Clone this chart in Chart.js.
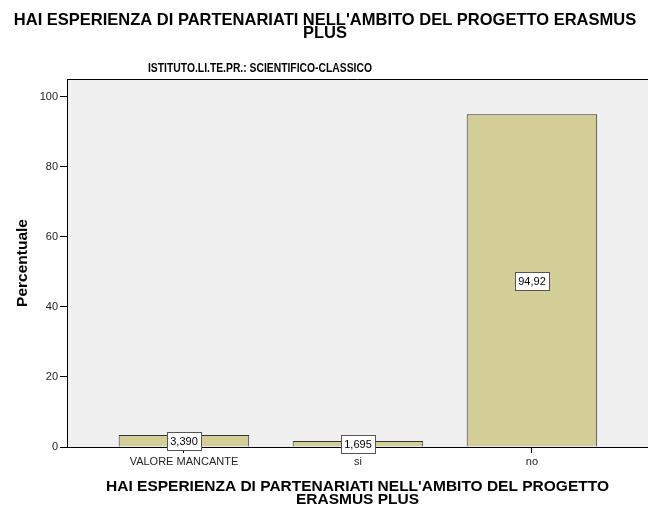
<!DOCTYPE html>
<html>
<head>
<meta charset="utf-8">
<script src="https://cdn.jsdelivr.net/npm/chart.js@4/dist/chart.umd.min.js"></script>
<style>
  html, body { margin: 0; padding: 0; background: #ffffff; }
  #wrap { width: 648px; height: 506px; }
</style>
</head>
<body>
<div id="wrap"><canvas id="barChart" width="648" height="506"></canvas></div>
<script>
// Chart data
const categories = ['VALORE MANCANTE', 'si', 'no'];
const percentages = [3.390, 1.695, 94.92];
const valueLabels = ['3,390', '1,695', '94,92'];
const yTicks = [0, 20, 40, 60, 80, 100];

const mainTitle = ["HAI ESPERIENZA DI PARTENARIATI NELL'AMBITO DEL PROGETTO ERASMUS", 'PLUS'];
const panelTitle = 'ISTITUTO.LI.TE.PR.: SCIENTIFICO-CLASSICO';
const xTitle = ["HAI ESPERIENZA DI PARTENARIATI NELL'AMBITO DEL PROGETTO", 'ERASMUS PLUS'];
const yTitle = 'Percentuale';

const FONT = "'Liberation Sans', Arial, sans-serif";

// Gray plot background with the top frame line
const plotBackground = {
    id: 'plotBackground',
    beforeDraw(chart) {
        const { ctx, chartArea } = chart;
        ctx.save();
        ctx.fillStyle = '#f0f0f0';
        ctx.fillRect(chartArea.left, chartArea.top, chartArea.right - chartArea.left, chartArea.bottom - chartArea.top);
        ctx.strokeStyle = '#000000';
        ctx.lineWidth = 1;
        ctx.beginPath();
        ctx.moveTo(chartArea.left, chartArea.top + 0.5);
        ctx.lineTo(chartArea.right, chartArea.top + 0.5);
        ctx.stroke();
        ctx.restore();
    }
};

// Titles above the plot
const titles = {
    id: 'titles',
    afterDraw(chart) {
        const ctx = chart.ctx;
        ctx.save();
        ctx.fillStyle = '#000000';
        ctx.textAlign = 'center';
        ctx.textBaseline = 'middle';
        ctx.font = 'bold 16.5px ' + FONT;
        ctx.fillText(mainTitle[0], 325, 20, 626);
        ctx.fillText(mainTitle[1], 325, 33);
        ctx.font = 'bold 13px ' + FONT;
        ctx.fillText(panelTitle, 260, 68, 224);
        ctx.restore();
    }
};

// Boxed value labels in the middle of each bar
const valueBoxes = {
    id: 'valueBoxes',
    afterDatasetsDraw(chart) {
        const { ctx } = chart;
        const meta = chart.getDatasetMeta(0);
        const yScale = chart.scales.y;
        ctx.save();
        ctx.font = '11px ' + FONT;
        ctx.textAlign = 'center';
        ctx.textBaseline = 'middle';
        meta.data.forEach((bar, i) => {
            const cy = Math.round(yScale.getPixelForValue(percentages[i] / 2));
            const cx = Math.round(bar.x);
            const w = Math.round(ctx.measureText(valueLabels[i]).width) + 6;
            const h = 18;
            ctx.fillStyle = '#ffffff';
            ctx.fillRect(cx - w / 2, cy - h / 2, w, h);
            ctx.strokeStyle = '#555555';
            ctx.lineWidth = 1;
            ctx.strokeRect(Math.round(cx - w / 2) + 0.5, cy - h / 2 + 0.5, w, h);
            ctx.fillStyle = '#000000';
            ctx.fillText(valueLabels[i], cx, cy + 1);
        });
        ctx.restore();
    }
};

const ctx = document.getElementById('barChart').getContext('2d');
new Chart(ctx, {
    type: 'bar',
    data: {
        datasets: [{
            data: percentages.map((v, i) => ({ x: i, y: v })),
            backgroundColor: '#d3ce98',
            borderColor: '#333333',
            borderWidth: 1,
            borderSkipped: 'bottom',
            barPercentage: 0.75,
            categoryPercentage: 1
        }]
    },
    options: {
        responsive: false,
        animation: false,
        layout: { padding: { top: 79, right: 0, bottom: 0, left: 0 } },
        plugins: {
            legend: { display: false },
            tooltip: { enabled: false }
        },
        scales: {
            x: {
                type: 'linear',
                offset: false,
                min: -0.672,
                max: 2.667,
                afterFit: scale => { scale.height = 59; },
                afterBuildTicks: scale => { scale.ticks = categories.map((c, i) => ({ value: i })); },
                grid: { offset: false, drawOnChartArea: false, drawTicks: true, tickLength: 6, color: '#000000' },
                border: { display: true, color: '#000000', width: 1 },
                ticks: {
                    autoSkip: false,
                    maxRotation: 0,
                    padding: 2,
                    color: '#222222',
                    font: { family: FONT, size: 11 },
                    callback: v => categories[v]
                },
                title: {
                    display: true,
                    text: xTitle,
                    color: '#000000',
                    font: { family: FONT, size: 15.5, weight: 'bold', lineHeight: 0.85 },
                    padding: { top: 0, bottom: 0 }
                }
            },
            y: {
                min: 0,
                max: 105,
                afterFit: scale => { scale.width = 67; },
                afterBuildTicks: scale => { scale.ticks = yTicks.map(v => ({ value: v })); },
                grid: { drawOnChartArea: false, drawTicks: true, tickLength: 7, color: '#000000' },
                border: { display: true, color: '#000000', width: 1 },
                ticks: {
                    padding: 2,
                    color: '#222222',
                    font: { family: FONT, size: 11 }
                },
                title: {
                    display: true,
                    text: yTitle,
                    color: '#000000',
                    font: { family: FONT, size: 15.5, weight: 'bold', lineHeight: 1.2 },
                    padding: { top: 13, bottom: 0 }
                }
            }
        }
    },
    plugins: [plotBackground, titles, valueBoxes]
});
</script>
</body>
</html>
